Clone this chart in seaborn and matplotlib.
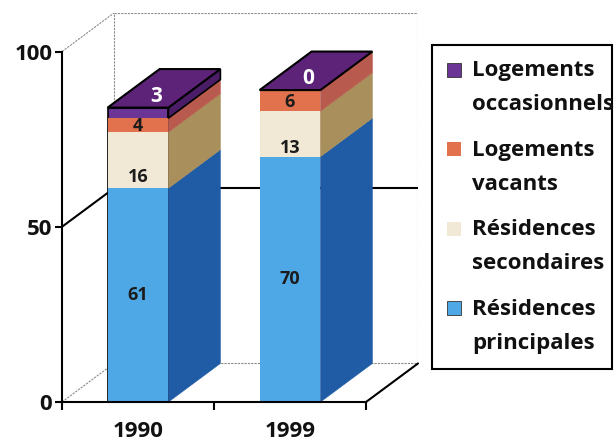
import numpy as np
import matplotlib
matplotlib.use("Agg")
import matplotlib.pyplot as plt
from matplotlib.patches import Polygon, Rectangle, Patch
from matplotlib.legend_handler import HandlerBase
import seaborn as sns

# ---- data -------------------------------------------------------------
years = ["1990", "1999"]
principales = [61, 70]     # Résidences principales
secondaires = [16, 13]     # Résidences secondaires
vacants = [4, 6]           # Logements vacants
occasionnels = [3, 0]      # Logements occasionnels
y_ticks = [0, 50, 100]
legend_labels = ["Logements\noccasionnels", "Logements\nvacants",
                 "Résidences\nsecondaires", "Résidences\nprincipales"]

# ---- style ------------------------------------------------------------
front_colors = ["#4ea8e6", "#f1e8d6", "#e2714d", "#6a3594"]
side_colors = ["#1f5ca5", "#a98f5c", "#b95a4e", "#4b1d66"]
top_color = "#5d2379"
BAR_W = 0.40
DX, DY = 0.342, 11.0          # depth of the 3-D box in data units
WEIGHT = "bold"

sns.set_theme(style="white")
plt.rcParams["font.family"] = ["Open Sans", "DejaVu Sans"]
plt.rcParams["font.weight"] = WEIGHT

fig = plt.figure(figsize=(6.16, 4.44), dpi=100)
ax = fig.add_axes([62 / 616, 42 / 444, 356 / 616, 389 / 444])

layers = [principales, secondaires, vacants, occasionnels]
cum = np.cumsum(np.array(layers, dtype=float), axis=0)
bases = cum - np.array(layers, dtype=float)

# front faces: cumulative totals drawn from the tallest down
fronts = [None] * 4
for i in reversed(range(4)):
    sns.barplot(x=years, y=cum[i], color=front_colors[i], saturation=1,
                width=BAR_W, ax=ax, zorder=3, linewidth=0, errorbar=None)
    fronts[i] = ax.containers[-1]

# purple slab outlined in black
for bar, v in zip(fronts[3], occasionnels):
    if v > 0:
        bar.set_edgecolor("black")
        bar.set_linewidth(1.2)

# side faces of every segment
for i, layer in enumerate(layers):
    for j, bar in enumerate(fronts[i]):
        if layer[j] == 0:
            continue
        xr = bar.get_x() + bar.get_width()
        y0, y1 = bases[i][j], cum[i][j]
        slab = i == 3
        ax.add_patch(Polygon([(xr, y0), (xr + DX, y0 + DY), (xr + DX, y1 + DY), (xr, y1)],
                             closed=True, facecolor=side_colors[i],
                             edgecolor="black" if slab else side_colors[i],
                             linewidth=1.2 if slab else 0.4, zorder=3))

# top faces
for j, bar in enumerate(fronts[3]):
    x0, w = bar.get_x(), bar.get_width()
    t = cum[3][j]
    ax.add_patch(Polygon([(x0, t), (x0 + w, t), (x0 + w + DX, t + DY), (x0 + DX, t + DY)],
                         closed=True, facecolor=top_color, edgecolor="black",
                         linewidth=1.5, zorder=4))

# value labels
label_fracs = [0.5, 0.2, 0.42]
for i in range(3):
    for j in range(len(years)):
        ax.text(j, bases[i][j] + label_fracs[i] * layers[i][j], f"{layers[i][j]}",
                ha="center", va="center", fontsize=13, fontweight=WEIGHT,
                color="#1c1c1c", zorder=6)
for j in range(len(years)):
    ax.text(j + 0.12, cum[3][j] + 3.2, f"{occasionnels[j]}", ha="center", va="center",
            fontsize=15, fontweight=WEIGHT, color="white", zorder=6)

# box: back wall, side wall and floor edges
xl, xr_ = -0.5, 1.5
grey = dict(color="#8a8a8a", lw=0.8, ls=(0, (2, 1)), zorder=1)
ax.plot([xl + DX, xr_ + DX], [100 + DY, 100 + DY], **grey)
ax.plot([xr_ + DX, xr_ + DX], [DY, 100 + DY], **grey)
ax.plot([xl + DX, xl + DX], [DY, 100 + DY], **grey)
ax.plot([xl + DX, xr_ + DX], [DY, DY], **grey)
for t in y_ticks:
    style = dict(color="black", lw=1.5, zorder=1) if 0 < t < 100 else grey
    ax.plot([xl, xl + DX], [t, t + DY], **style)
    if 0 < t < 100:
        ax.plot([xl + DX, xr_ + DX], [t + DY, t + DY], **style)
ax.plot([xr_, xr_ + DX], [0, DY], color="black", lw=1.5, zorder=5, clip_on=False)

# axes
ax.set_xlim(xl, xr_ + DX)
ax.set_ylim(0, 100 + DY)
ax.set_xlabel("")
ax.set_ylabel("")
for s in ["top", "right"]:
    ax.spines[s].set_visible(False)
for s in ["left", "bottom"]:
    ax.spines[s].set_color("black")
    ax.spines[s].set_linewidth(1.5)
    ax.spines[s].set_zorder(5)
ax.spines["left"].set_bounds(0, 100)
ax.spines["bottom"].set_bounds(xl, xr_)
ax.set_yticks(y_ticks)
ax.set_yticklabels([str(t) for t in y_ticks])
ax.set_xticks(range(len(years)))
ax.set_xticklabels(years)
ax.set_xticks([xl, 0.5, xr_], minor=True)
ax.tick_params(axis="y", which="major", left=True, length=5, width=1.5, color="black",
               direction="out", labelsize=16, pad=2, labelcolor="#111111")
ax.tick_params(axis="x", which="major", bottom=True, length=0, labelsize=16, pad=14,
               labelcolor="#111111")
ax.tick_params(axis="x", which="minor", bottom=True, length=6, width=1.5, color="black",
               direction="out")
for lab in ax.get_xticklabels() + ax.get_yticklabels():
    lab.set_fontweight(WEIGHT)
ax.set_facecolor("white")


class FirstLineSquare(HandlerBase):
    """Square key placed beside the first line of a two-line label."""

    def legend_artist(self, legend, orig_handle, fontsize, handlebox):
        side = 0.63 * fontsize
        lift = 0.85 * fontsize
        dark = orig_handle.get_facecolor()[0] < 0.5
        r = Rectangle((0, lift), side, side, facecolor=orig_handle.get_facecolor(),
                      edgecolor="#333333" if dark else "none",
                      linewidth=0.6, transform=handlebox.get_transform())
        handlebox.add_artist(r)
        return r


handles = [Patch(facecolor=c) for c in front_colors[::-1]]
leg = fig.legend(handles, legend_labels, loc="upper left",
                 bbox_to_anchor=(432 / 616, 1 - 368 / 444, 180 / 616, 323 / 444),
                 bbox_transform=fig.transFigure, mode="expand", borderaxespad=0,
                 borderpad=0.68, handlelength=0.63, handletextpad=0.5,
                 labelspacing=1.1, fontsize=16, fancybox=False, framealpha=1,
                 handler_map={Patch: FirstLineSquare()})
leg.get_frame().set_edgecolor("black")
leg.get_frame().set_linewidth(1.5)
for t in leg.get_texts():
    t.set_linespacing(1.82)
    t.set_fontweight(WEIGHT)
    t.set_color("#111111")

fig.savefig("out.png", dpi=100, facecolor="white")
